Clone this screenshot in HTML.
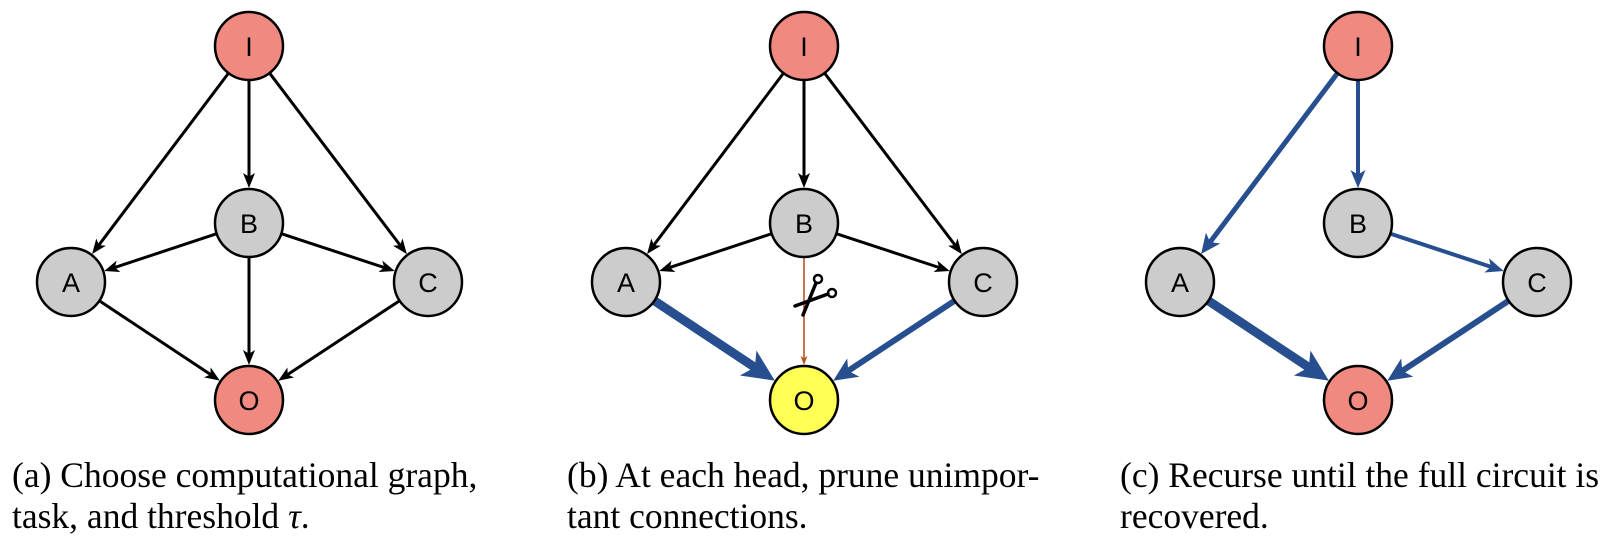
<!DOCTYPE html>
<html><head><meta charset="utf-8"><style>
html,body{margin:0;padding:0;background:#fff;}
svg{display:block;}
.cap{font-family:"Liberation Serif",serif;font-size:35.5px;fill:#000;}
.lbl{font-family:"Liberation Sans",sans-serif;font-size:27px;fill:#000;text-anchor:middle;dominant-baseline:central;}
</style></head><body>
<svg id="fig" width="1615" height="548" viewBox="0 0 1615 548" xmlns="http://www.w3.org/2000/svg">
<g id="edges"></g>
<g id="nodes"></g>
<g stroke="#000" fill="none">
<circle cx="818" cy="279" r="4" stroke-width="2.5"/>
<circle cx="832" cy="293" r="4" stroke-width="2.5"/>
<path d="M816 283 L803 315" stroke-width="3.5" stroke-linecap="round"/>
<path d="M828 294 L795 306" stroke-width="3.5" stroke-linecap="round"/>
</g>
<text class="cap" x="12" y="487">(a) Choose computational graph,</text>
<text class="cap" x="12" y="528">task, and threshold <tspan font-style="italic">τ</tspan>.</text>
<text class="cap" x="567" y="487">(b) At each head, prune unimpor-</text>
<text class="cap" x="567" y="528">tant connections.</text>
<text class="cap" x="1120" y="487">(c) Recurse until the full circuit is</text>
<text class="cap" x="1120" y="528">recovered.</text>
</svg>
<script>
const panelX=[249,804,1358];
const nodeIds=["I","B","A","C","O"];
const nodeDX=[0,0,-178,179,0];
const nodeY=[46,223,282,282,400];
const nodeFill=[["#f08a80","#cccccc","#cccccc","#cccccc","#f08a80"],["#f08a80","#cccccc","#cccccc","#cccccc","#ffff55"],["#f08a80","#cccccc","#cccccc","#cccccc","#f08a80"]];
const R=34;
const edgeList=[
[0,"I","A",3,"#000",15,12],[0,"I","B",3,"#000",15,12],[0,"I","C",3,"#000",15,12],
[0,"B","A",3,"#000",15,12],[0,"B","C",3,"#000",15,12],[0,"B","O",3,"#000",15,12],
[0,"A","O",3,"#000",15,12],[0,"C","O",3,"#000",15,12],
[1,"I","A",3,"#000",15,12],[1,"I","B",3,"#000",15,12],[1,"I","C",3,"#000",15,12],
[1,"B","A",3,"#000",15,12],[1,"B","C",3,"#000",15,12],[1,"B","O",1.6,"#b5561f",9,7],
[1,"A","O",9,"#274f8f",32,30],[1,"C","O",6,"#274f8f",24,22],
[2,"I","A",5,"#274f8f",20,18],[2,"I","B",4,"#274f8f",18,15],[2,"B","C",4,"#274f8f",18,15],
[2,"A","O",9,"#274f8f",32,30],[2,"C","O",6,"#274f8f",24,22]
];
const NS="http://www.w3.org/2000/svg";
function pos(p,id){const i=nodeIds.indexOf(id);return [panelX[p]+nodeDX[i],nodeY[i]];}
const eg=document.getElementById("edges"),ng=document.getElementById("nodes");
edgeList.forEach(e=>{
 const [p,f,t,w,c,hl,hw]=e;const a=pos(p,f),b=pos(p,t);
 const dx=b[0]-a[0],dy=b[1]-a[1],L=Math.hypot(dx,dy),ux=dx/L,uy=dy/L;
 const sx=a[0]+ux*R,sy=a[1]+uy*R,tx=b[0]-ux*(R+1),ty=b[1]-uy*(R+1);
 const bx=tx-ux*hl,by=ty-uy*hl;
 const ln=document.createElementNS(NS,"line");
 
 
 ln.setAttribute("x1",sx);ln.setAttribute("y1",sy);ln.setAttribute("x2",bx+ux*hl*0.3);ln.setAttribute("y2",by+uy*hl*0.3);
 ln.setAttribute("stroke",c);ln.setAttribute("stroke-width",w);ln.setAttribute("stroke-linecap","round");
 eg.appendChild(ln);
 const pg=document.createElementNS(NS,"polygon");
 
 
 const px=-uy,py=ux,h=hw/2,n=hl*0.25;
 pg.setAttribute("points",`${tx},${ty} ${bx+px*h},${by+py*h} ${bx+ux*n},${by+uy*n} ${bx-px*h},${by-py*h}`);
 pg.setAttribute("fill",c);
 eg.appendChild(pg);
});
panelX.forEach((x,p)=>{
 nodeIds.forEach((id,i)=>{
  const [cx,cy]=pos(p,id);
  const ci=document.createElementNS(NS,"circle");
  
  
  ci.setAttribute("cx",cx);ci.setAttribute("cy",cy);ci.setAttribute("r",R);
  ci.setAttribute("fill",nodeFill[p][i]);ci.setAttribute("stroke","#000");ci.setAttribute("stroke-width",2.5);
  ng.appendChild(ci);
  const tx=document.createElementNS(NS,"text");
  
  
  tx.setAttribute("class","lbl");tx.setAttribute("x",cx);tx.setAttribute("y",cy+1);
  tx.textContent=id;ng.appendChild(tx);
 });
});
</script>
</body></html>
